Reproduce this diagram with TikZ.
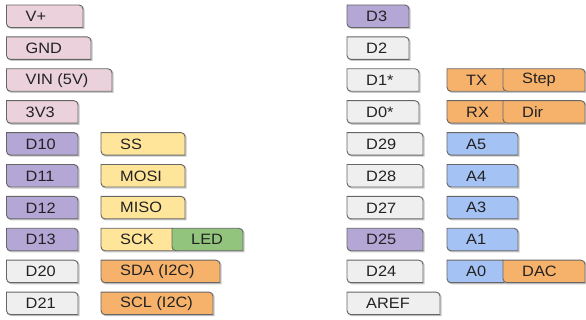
\documentclass[tikz,border=0pt]{standalone}
\usepackage{fontspec}
\setmainfont[FakeStretch=1.09]{Liberation Sans}
\definecolor{pinpink}{HTML}{EAD1DC}
\definecolor{pinpurple}{HTML}{B4A7D6}
\definecolor{pingray}{HTML}{EFEFEF}
\definecolor{pinyellow}{HTML}{FFE599}
\definecolor{pingreen}{HTML}{93C47D}
\definecolor{pinorange}{HTML}{F6B26B}
\definecolor{pinblue}{HTML}{A4C2F4}
\definecolor{pinedge}{HTML}{666666}
\definecolor{pintext}{HTML}{222222}
\definecolor{pinshadow}{HTML}{C8C8C8}
\tikzset{
  boxshape/.style={draw=pinedge, line width=0.9pt},
  boxshadow/.style={draw=pinshadow, line width=1.2pt},
  pinlabel/.style={anchor=west, inner sep=0pt, text=pintext,
    font=\fontsize{15}{15}\selectfont},
}
% #1 name, #2 left x, #3 right x, #4 top y, #5 fill, #6 label
\newcommand\pinbox[6]{%
  \pgfmathsetmacro\pbB{-(#4)-22.5}%
  \pgfmathsetmacro\pbT{-(#4)}%
  \path[boxshadow] (#2+1,\pbT-1) -- (#3-4+1,\pbT-1) arc[start angle=90,end angle=0,radius=4] -- (#3+1,\pbB-1) -- (#2+4+1,\pbB-1) arc[start angle=270,end angle=180,radius=4] -- cycle;
  \path[boxshape, fill=#5] (#2,\pbT) -- (#3-4,\pbT) arc[start angle=90,end angle=0,radius=4] -- (#3,\pbB) -- (#2+4,\pbB) arc[start angle=270,end angle=180,radius=4] -- cycle;
  \node[pinlabel] (#1) at (#2+19,\pbT-11.4) {#6};%
}
\begin{document}
\begin{tikzpicture}[x=1pt,y=1pt]
\useasboundingbox (0,0) rectangle (586,-320);
% left header pins
\pinbox{vplus}{6.5}{83}{5}{pinpink}{V+}
\pinbox{gnd}{6.5}{91}{36.9}{pinpink}{GND}
\pinbox{vin}{6.5}{112}{68.8}{pinpink}{VIN (5V)}
\pinbox{v33}{6.5}{78}{100.7}{pinpink}{3V3}
\pinbox{d10}{6.5}{78}{132.6}{pinpurple}{D10}
\pinbox{d11}{6.5}{78}{164.5}{pinpurple}{D11}
\pinbox{d12}{6.5}{78}{196.4}{pinpurple}{D12}
\pinbox{d13}{6.5}{78}{228.3}{pinpurple}{D13}
\pinbox{d20}{6.5}{78}{260.2}{pingray}{D20}
\pinbox{d21}{6.5}{78}{292.1}{pingray}{D21}
% left alternate functions
\pinbox{ss}{101}{185}{132.6}{pinyellow}{SS}
\pinbox{mosi}{101}{185}{164.5}{pinyellow}{MOSI}
\pinbox{miso}{101}{185}{196.4}{pinyellow}{MISO}
\pinbox{sck}{101}{176}{228.3}{pinyellow}{SCK}
\pinbox{led}{172}{243}{228.3}{pingreen}{LED}
\pinbox{sda}{101}{220}{260.2}{pinorange}{SDA (I2C)}
\pinbox{scl}{101}{213}{292.1}{pinorange}{SCL (I2C)}
% right header pins
\pinbox{d3}{347}{409}{5}{pinpurple}{D3}
\pinbox{d2}{347}{409}{36.9}{pingray}{D2}
\pinbox{d1}{347}{419}{68.8}{pingray}{D1*}
\pinbox{d0}{347}{419}{100.7}{pingray}{D0*}
\pinbox{d29}{347}{423}{132.6}{pingray}{D29}
\pinbox{d28}{347}{423}{164.5}{pingray}{D28}
\pinbox{d27}{347}{423}{196.4}{pingray}{D27}
\pinbox{d25}{347}{423}{228.3}{pinpurple}{D25}
\pinbox{d24}{347}{423}{260.2}{pingray}{D24}
\pinbox{aref}{347}{440}{292.1}{pingray}{AREF}
% right alternate functions
\pinbox{tx}{447}{507}{68.8}{pinorange}{TX}
\pinbox{step}{503}{585}{68.8}{pinorange}{Step}
\pinbox{rx}{447}{507}{100.7}{pinorange}{RX}
\pinbox{dir}{503}{585}{100.7}{pinorange}{Dir}
\pinbox{a5}{447}{518}{132.6}{pinblue}{A5}
\pinbox{a4}{447}{518}{164.5}{pinblue}{A4}
\pinbox{a3}{447}{518}{196.4}{pinblue}{A3}
\pinbox{a1}{447}{518}{228.3}{pinblue}{A1}
\pinbox{a0}{447}{507}{260.2}{pinblue}{A0}
\pinbox{dac}{503}{585}{260.2}{pinorange}{DAC}
\end{tikzpicture}
\end{document}
